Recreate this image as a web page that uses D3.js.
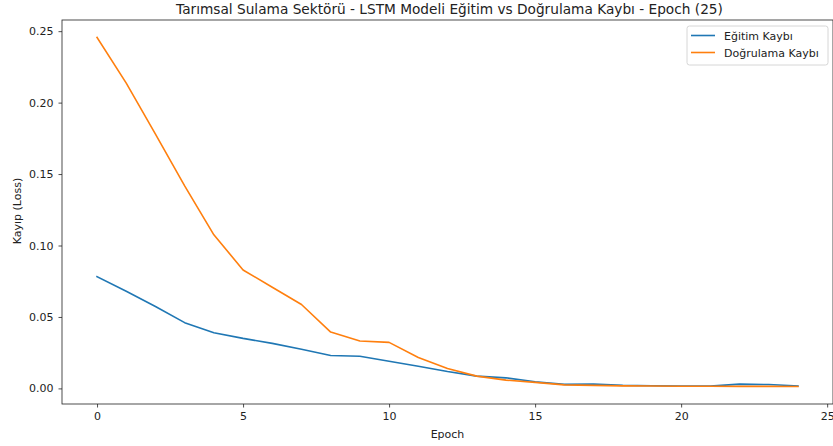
<!DOCTYPE html>
<html><head><meta charset="utf-8">
<script src="https://cdn.jsdelivr.net/npm/d3@7"></script>
<style>body{margin:0;background:#fff}svg{display:block}text{font-family:"DejaVu Sans",sans-serif;fill:#222}</style>
</head><body><svg id="c" width="833" height="446"></svg>
<script>
const epochs = d3.range(25);
const trainLoss = [0.0782,0.068,0.0573,0.046,0.039,0.035,0.0315,0.0274,0.023,0.0225,0.019,0.0155,0.0118,0.0086,0.0074,0.0046,0.0028,0.003,0.0021,0.0019,0.0016,0.0016,0.003,0.0027,0.0017];
const valLoss = [0.2456,0.2136,0.178,0.1417,0.1075,0.0829,0.0708,0.0587,0.0394,0.0332,0.0322,0.0216,0.0139,0.0086,0.0058,0.0042,0.0025,0.0021,0.0018,0.0017,0.0015,0.0015,0.0014,0.0014,0.0013];
const xTicks = [0,5,10,15,20,25];
const yTicks = [0,0.05,0.10,0.15,0.20,0.25];
const seriesNames = ["Eğitim Kaybı","Doğrulama Kaybı"];
const colors = ["#1f77b4","#ff7f0e"];
const title = "Tarımsal Sulama Sektörü - LSTM Modeli Eğitim vs Doğrulama Kaybı - Epoch (25)";

const L=62,R=833,T=20,B=404;
const svg=d3.select("#c");
const allY=trainLoss.concat(valLoss);
const ymin=d3.min(allY), ymax=d3.max(allY), pad=(ymax-ymin)*0.05;
const x=d3.scaleLinear().domain([-1.2,25.2]).range([L,R]);
const y=d3.scaleLinear().domain([ymin-pad,ymax+pad]).range([B,T]);

const xa=svg.append("g").attr("transform",`translate(0,${B})`).call(d3.axisBottom(x).tickValues(xTicks).tickSize(3.5).tickPadding(5).tickFormat(d3.format("d")));
const ya=svg.append("g").attr("transform",`translate(${L},0)`).call(d3.axisLeft(y).tickValues(yTicks).tickSize(3.5).tickPadding(5).tickFormat(d3.format(".2f")));
[xa,ya].forEach(a=>{a.select(".domain").remove();a.selectAll("line").attr("stroke","#222").attr("stroke-width",0.8);a.selectAll("text").style("font-size","11px").attr("fill","#222");});

const line=d3.line().x((d,i)=>x(epochs[i])).y(d=>y(d));
[trainLoss,valLoss].forEach((s,k)=>{
  svg.append("path").datum(s).attr("d",line).attr("fill","none").attr("stroke",colors[k]).attr("stroke-width",1.6).attr("stroke-linejoin","round").attr("stroke-linecap","square");
});
svg.append("rect").attr("x",L).attr("y",T).attr("width",R-L).attr("height",B-T).attr("fill","none").attr("stroke","#222").attr("stroke-width",0.8);

svg.append("text").attr("x",(L+R)/2+2).attr("y",14).attr("text-anchor","middle").style("font-size","13.7px").text(title);
svg.append("text").attr("x",(L+R)/2).attr("y",438).attr("text-anchor","middle").style("font-size","11px").text("Epoch");
svg.append("text").attr("transform","translate(21,211) rotate(-90)").attr("text-anchor","middle").style("font-size","11px").text("Kayıp (Loss)");

const lg=svg.append("g");
lg.append("rect").attr("x",687).attr("y",26).attr("width",141).attr("height",39).attr("rx",2.5).attr("fill","#fff").attr("fill-opacity",0.8).attr("stroke","#ccc").attr("stroke-width",0.8);
seriesNames.forEach((n,k)=>{
  const yy=35.5+k*17;
  lg.append("line").attr("x1",691).attr("x2",715).attr("y1",yy).attr("y2",yy).attr("stroke",colors[k]).attr("stroke-width",1.6);
  lg.append("text").attr("x",724).attr("y",yy+4).style("font-size","11px").text(n);
});
</script></body></html>
